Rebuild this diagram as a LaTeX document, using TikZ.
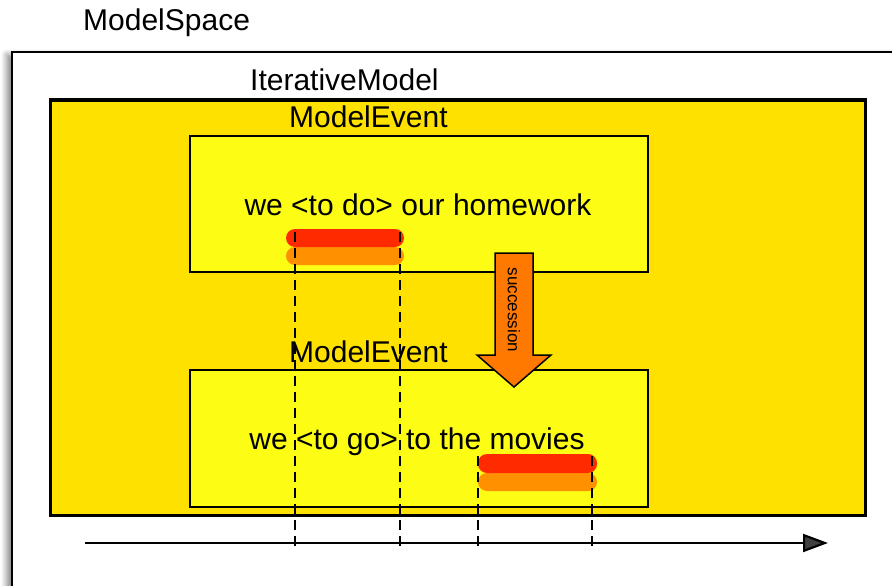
\documentclass[tikz,border=0pt]{standalone}
\usepackage{fontspec}
\setmainfont{Liberation Sans}
\usetikzlibrary{shadows.blur,arrows.meta}
\definecolor{gold}{RGB}{255,225,0}
\definecolor{lemon}{RGB}{252,252,20}
\definecolor{barred}{RGB}{255,42,0}
\definecolor{barorange}{RGB}{255,144,0}
\definecolor{arroworange}{RGB}{255,120,0}
\tikzset{
  lbl/.style={font=\fontsize{30}{36}\selectfont, anchor=base west, inner sep=0pt},
  txt/.style={font=\fontsize{30}{36}\selectfont, anchor=base, inner sep=0pt},
  frame/.style={draw=black, line width=2.2pt},
  bar/.style={rounded corners=9pt, line width=0pt},
  timeline/.style={draw=black, line width=2.4pt, dash pattern=on 10pt off 6pt},
}
\begin{document}
\begin{tikzpicture}[x=1pt,y=-1pt]
\useasboundingbox (0,0) rectangle (892,586);
% outer ModelSpace frame
\draw[frame, fill=white, blur shadow={shadow xshift=-5pt, shadow yshift=-3pt, shadow blur steps=8, shadow blur radius=6pt, shadow opacity=50}] (12,52) rectangle (905,605);
\node[lbl] (ms) at (83,31) {ModelSpace};
% iterative model
\draw[draw=black, line width=3pt, fill=gold] (50,100) rectangle (865,515);
\node[lbl] (im) at (250,91) {IterativeModel};
% events
\draw[frame, fill=lemon] (190,136) rectangle (648,272);
\node[lbl] (me1) at (289,128) {ModelEvent};
\node[txt] (t1) at (418,215) {we <to do> our homework};
\draw[frame, fill=lemon] (190,370) rectangle (648,507);
\node[lbl] (me2) at (289,362) {ModelEvent};
\node[txt] (t2) at (417,449) {we <to go> to the movies};
% bars
\fill[barorange, bar] (286,247) rectangle (404,265);
\fill[barred, bar] (286,229) rectangle (404,247);
\fill[barorange, bar] (478,473) rectangle (597,491);
\fill[barred, bar] (478,454) rectangle (597,473);
% succession arrow
\draw[draw=black, line width=1.5pt, fill=arroworange, line join=miter]
  (495,253) -- (533,253) -- (533,355) -- (551,355) -- (514,387) -- (477,355) -- (495,355) -- cycle;
\node[font=\fontsize{17}{20}\selectfont, rotate=-90, inner sep=0pt] (succ) at (514,310) {succession};
% timeline axis
\coordinate (ax0) at (85,543);
\coordinate (ax1) at (828,543);
\draw[line width=2.2pt, -{Triangle[length=25pt,width=18pt]}] (ax0) -- (ax1);
% dashed time marks
\coordinate (d1a) at (295,232); \coordinate (d1b) at (295,548);
\coordinate (d2a) at (400,232); \coordinate (d2b) at (400,548);
\coordinate (d3a) at (478,456); \coordinate (d3b) at (478,550);
\coordinate (d4a) at (592,456); \coordinate (d4b) at (592,552);
\draw[timeline] (d1a) -- (d1b);
\draw[timeline] (d2a) -- (d2b);
\draw[timeline] (d3a) -- (d3b);
\draw[timeline] (d4a) -- (d4b);
\end{tikzpicture}
\end{document}
